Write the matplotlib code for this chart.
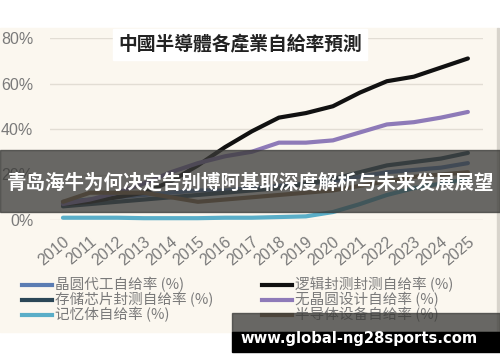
import matplotlib
matplotlib.use('Agg')
import matplotlib.pyplot as plt
from matplotlib.patches import Rectangle

## data
years = [2010, 2011, 2012, 2013, 2014, 2015, 2016, 2017,
         2018, 2019, 2020, 2021, 2022, 2023, 2024, 2025]

foundry = [8, 9, 10, 11, 12, 13, 13, 14, 15, 16, 17, 19, 21, 22, 23, 25]
storage_pkg = [6, 7, 8, 9, 10, 11, 12, 13, 14, 16, 18, 21, 24, 25.5, 27, 29.5]
memory = [1, 1, 1, 0.8, 0.8, 0.8, 1, 1, 1.3, 1.6, 3.5, 7, 11, 14, 16, 18]
logic_pkg = [7, 8, 10, 12, 17, 24, 32, 39, 45, 47, 50, 56, 61, 63, 67, 71]
fabless = [7, 9, 12, 16, 21, 25, 28, 30, 34, 34, 35, 38.5, 42, 43, 45, 47.5]
equipment = [8, 12, 12, 12, 10, 8, 9, 10, 11, 12, 13, 15, 17, 19, 20, 21]

labels = ['晶圆代工自给率 (%)', '存储芯片封测自给率 (%)', '记忆体自给率 (%)',
          '逻辑封测封测自给率 (%)', '无晶圆设计自给率 (%)', '半导体设备自给率 (%)']
y_ticks = [0, 20, 40, 60, 80]

series = [foundry, storage_pkg, memory, logic_pkg, fabless, equipment]
colors = ['#5b7db3', '#2c4757', '#5aaec8', '#111111', '#8e7ab8', '#8a6a45']

W, H = 500, 362


def fx(px):
    return px / W


def fy(py):
    return 1 - py / H


fig = plt.figure(figsize=(5, 3.62), dpi=100)
fig.patch.set_facecolor('white')

# cream panel
fig.patches.append(Rectangle((0, fy(332)), fx(497), (332 - 28) / H,
                             transform=fig.transFigure, color='#fbf7ef', zorder=-2))
fig.patches.append(Rectangle((fx(497), fy(332)), fx(1.5), (332 - 28) / H,
                             transform=fig.transFigure, color='#d8d4cc', zorder=-2))

ax = fig.add_axes([fx(50), fy(220), fx(483 - 50), (220 - 38) / H])
ax.set_facecolor('none')
ax.set_xlim(2009.52, 2025.56)
ax.set_ylim(0, 80)

for vals, c in zip(series, colors):
    ax.plot(years, vals, color=c, lw=3, solid_capstyle='round',
            solid_joinstyle='round', clip_on=False, zorder=3)

ax.set_yticks(y_ticks)
ax.set_yticklabels(['%d%%' % v for v in y_ticks])
ax.set_xticks(years)
ax.set_xticklabels([str(y) for y in years], rotation=40, ha='right',
                   rotation_mode='anchor')
ax.tick_params(length=0, labelcolor='#7a7a7a', labelsize=11.5)
ax.tick_params(axis='y', pad=12)
ax.tick_params(axis='x', pad=10)
for lab in ax.get_xticklabels() + ax.get_yticklabels():
    lab.set_family('Liberation Sans')
ax.yaxis.grid(True, color='#e2ddd4', lw=1)
ax.set_axisbelow(True)
for s in ax.spines.values():
    s.set_visible(False)

# title box
fig.patches.append(Rectangle((fx(113), fy(60)), fx(367 - 113), 31 / H,
                             transform=fig.transFigure, color='white', zorder=1))
fig.text(fx(240), fy(45), '中國半導體各產業自給率預測', ha='center', va='center',
         fontsize=13.5, weight='bold', color='#222222',
         family=['Noto Sans CJK TC', 'DejaVu Sans'], zorder=2)

# legend
for i, (lab, c) in enumerate(zip(labels, colors)):
    col, row = divmod(i, 3)
    x0 = 22 + col * 240
    y0 = 285 + row * 15
    fig.add_artist(plt.Line2D([fx(x0), fx(x0 + 30)], [fy(y0), fy(y0)],
                              transform=fig.transFigure, color=c, lw=3))
    fig.text(fx(x0 + 33), fy(y0), lab, ha='left', va='center', fontsize=10.5,
             color='#7a7a7a', family=['Noto Sans CJK SC', 'DejaVu Sans'])

# banner overlay
fig.patches.append(Rectangle((0, fy(212)), 1, 62 / H, transform=fig.transFigure,
                             color='#3a3a38', alpha=0.76, zorder=10))
fig.text(0.502, fy(183), '青岛海牛为何决定告别博阿基耶深度解析与未来发展展望',
         ha='center', va='center', fontsize=14, weight='bold', color='white',
         family=['Noto Sans CJK SC', 'DejaVu Sans'], zorder=11)

# watermark
fig.patches.append(Rectangle((fx(232), fy(332)), fx(268), 19 / H,
                             transform=fig.transFigure, color='#3a3a38',
                             alpha=0.76, zorder=10))
fig.patches.append(Rectangle((fx(232), fy(352)), fx(268), 20 / H,
                             transform=fig.transFigure, color='black', zorder=10))
fig.text(fx(240), fy(339), 'www.global-ng28sports.com', ha='left', va='center',
         fontsize=10.6, weight='bold', color='white', family='DejaVu Sans',
         zorder=11)

fig.savefig('out.png', dpi=100)
